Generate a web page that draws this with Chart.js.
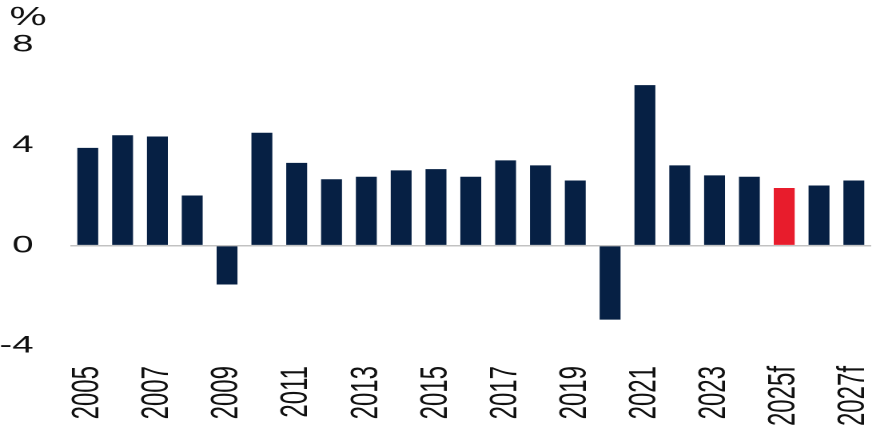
<!DOCTYPE html>
<html>
<head>
<meta charset="utf-8">
<script src="https://cdn.jsdelivr.net/npm/chart.js@4/dist/chart.umd.min.js"></script>
<style>
    html, body { margin: 0; padding: 0; background: #fff; overflow: hidden; }
    /* the reference is stretched sideways, so the chart is drawn narrow and widened */
    #wrap {
        width: 553px;
        height: 426px;
        transform: scaleX(1.5986);
        transform-origin: 0 0;
    }
</style>
</head>
<body>
<div id="wrap"><canvas id="mainChart"></canvas></div>
<script>
// -----------------------------
// data
// -----------------------------
const years = [
    "2005", "2006", "2007", "2008", "2009", "2010", "2011", "2012",
    "2013", "2014", "2015", "2016", "2017", "2018", "2019", "2020",
    "2021", "2022", "2023", "2024", "2025f", "2026f", "2027f"
];

const growth = [
    3.9, 4.4, 4.35, 2.0, -1.55, 4.5, 3.3, 2.65,
    2.75, 3.0, 3.05, 2.75, 3.4, 3.2, 2.6, -2.95,
    6.4, 3.2, 2.8, 2.75, 2.3, 2.4, 2.6
];

const yTicks = [-4, 0, 4, 8];
const highlightYear = "2025f";
const unitLabel = "%";

const NAVY = "#062044";
const RED = "#e81c2c";
const FONT = "'Liberation Sans', Arial, sans-serif";

// -----------------------------
// unit label above the y axis
// -----------------------------
const unitPlugin = {
    id: "unitLabel",
    afterDraw(chart) {
        const c = chart.ctx;
        c.save();
        c.fillStyle = "#111";
        c.font = "26px " + FONT;
        c.textAlign = "center";
        c.textBaseline = "middle";
        c.fillText(unitLabel, 17.5, 18);
        c.restore();
    }
};

// -----------------------------
// chart
// -----------------------------
new Chart(document.getElementById("mainChart"), {
    type: "bar",
    data: {
        labels: years,
        datasets: [{
            data: growth,
            backgroundColor: years.map(y => y === highlightYear ? RED : NAVY),
            barPercentage: 0.6,
            categoryPercentage: 1.0
        }]
    },
    plugins: [unitPlugin],
    options: {
        responsive: true,
        maintainAspectRatio: false,
        animation: false,
        devicePixelRatio: 2,
        layout: {
            padding: { left: 0, right: 8, top: 45, bottom: 0 }
        },
        plugins: {
            legend: { display: false },
            tooltip: { enabled: false }
        },
        scales: {
            x: {
                grid: { display: false },
                border: { display: false },
                ticks: {
                    autoSkip: false,
                    minRotation: 90,
                    maxRotation: 90,
                    padding: 12,
                    color: "#111",
                    font: { family: FONT, size: 24 },
                    callback: (v, i) => i % 2 === 0 ? years[i] : ""
                },
                afterFit(scale) {
                    scale.height = 80;
                    scale.paddingLeft = 0;
                    scale.paddingRight = 0;
                }
            },
            y: {
                min: yTicks[0],
                max: yTicks[yTicks.length - 1],
                afterBuildTicks(scale) {
                    scale.ticks = yTicks.map(v => ({ value: v }));
                },
                border: { display: false },
                grid: {
                    drawTicks: false,
                    lineWidth: 1.5,
                    color: ctx => ctx.tick && ctx.tick.value === 0 ? "#c2c2c2" : "rgba(0,0,0,0)"
                },
                ticks: {
                    padding: 23,
                    color: "#111",
                    font: { family: FONT, size: 24 }
                },
                afterFit(scale) {
                    scale.width = 44;
                    scale.paddingTop = 0;
                    scale.paddingBottom = 0;
                }
            }
        }
    }
});
</script>
</body>
</html>
